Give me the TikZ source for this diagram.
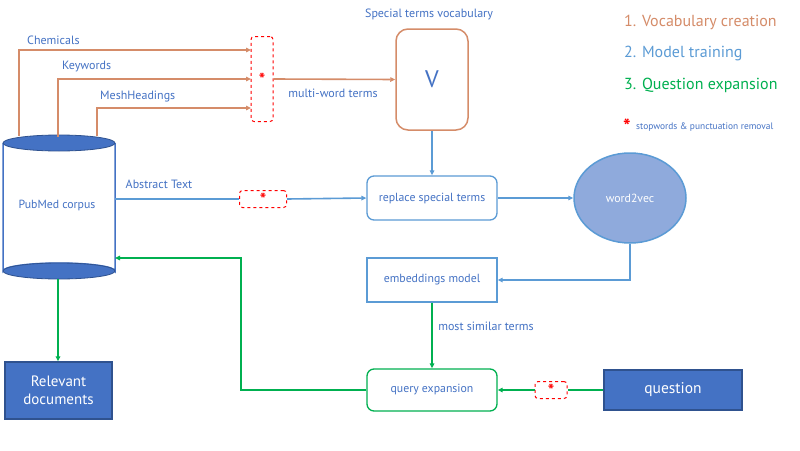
\documentclass[tikz,border=0pt]{standalone}
\usepackage{fontspec}
\setmainfont{PT Sans}
\usetikzlibrary{arrows.meta,shapes.geometric}
\definecolor{orng}{RGB}{213,140,105}
\definecolor{tblue}{RGB}{68,114,196}
\definecolor{lblue}{RGB}{91,155,213}
\definecolor{grn}{RGB}{0,176,80}
\definecolor{dkblue}{RGB}{47,82,143}
\definecolor{ellfill}{RGB}{143,170,220}
\newcommand{\redstar}{\raisebox{-4pt}{\bfseries *}}
\begin{document}
\begin{tikzpicture}[x=1pt,y=-1pt,
  tip/.style={-{Triangle[length=5pt,width=4.5pt]}},
  lbl/.style={text=tblue,font=\fontsize{12}{14}\selectfont,inner sep=0pt},
  oline/.style={draw=orng,line width=1.6pt,tip},
  bline/.style={draw=lblue,line width=1.6pt,tip},
  gline/.style={draw=grn,line width=1.6pt,tip},
  redbox/.style={draw=red,dashed,line width=1pt,rounded corners=3pt,text=red,inner sep=0pt,font=\fontsize{17}{17}\selectfont},
  procbox/.style={draw=lblue,line width=1.3pt,fill=white,text=tblue,minimum width=130pt,minimum height=44pt,font=\fontsize{11.8}{13}\selectfont,inner sep=0pt},
  solidbox/.style={draw=dkblue,line width=1.3pt,fill=tblue,text=white,inner sep=0pt}
]
\useasboundingbox (0,0) rectangle (800,450);
\fill[white] (0,0) rectangle (800,450);

% cylinder
\node[minimum width=112pt,minimum height=128pt,inner sep=0pt] (corpus) at (59,207) {};
\draw[tblue,line width=1.5pt,fill=white] (3,143) -- (3,271) arc[start angle=180,end angle=360,x radius=56,y radius=8] -- (115,143);
\draw[dkblue,line width=0.8pt,fill=tblue] (59,271) ellipse[x radius=56,y radius=8];
\draw[dkblue,line width=0.8pt,fill=tblue] (59,143) ellipse[x radius=56,y radius=8];
\node[lbl,font=\fontsize{11.8}{13}\selectfont] (corpustxt) at (57,205) {PubMed corpus};

\coordinate (c1) at (19,136);
\coordinate (c2) at (58,137);
\coordinate (c3) at (97,136);
\coordinate (cright) at (115,199);
\coordinate (cright2) at (115,258);
\coordinate (cbot) at (58,279);

% red dashed box
\node[redbox,minimum width=22pt,minimum height=85pt] (star1) at (262,79) {\redstar};
\coordinate (s1a) at (251,50);
\coordinate (s1b) at (251,79);
\coordinate (s1c) at (251,108);

\draw[oline] (c1) |- (s1a);
\draw[oline] (c2) |- (s1b);
\draw[oline] (c3) |- (s1c);
\node[lbl,anchor=west] (lchem) at (27,40) {Chemicals};
\node[lbl,anchor=west] (lkey) at (62,67) {Keywords};
\node[lbl,anchor=west] (lmesh) at (100,97) {MeshHeadings};

% V box
\node[draw=orng,line width=1.5pt,rounded corners=12pt,minimum width=72pt,minimum height=101pt,text=tblue,font=\fontsize{24}{26}\selectfont,inner sep=0pt] (V) at (432,79.5) {V};
\node[lbl] (lspec) at (429,14) {Special terms vocabulary};
\draw[oline] (star1.east) -- (V.west);
\node[lbl] (lmulti) at (333,93) {multi-word terms};

% replace
\node[procbox,rounded corners=7pt] (replace) at (432,198) {replace special terms};
\draw[bline] (V.south) -- (replace.north);

% abstract
\node[redbox,minimum width=47pt,minimum height=17pt] (star2) at (263,199) {\redstar};
\draw[draw=lblue,line width=1.6pt] (cright) -- (star2.west);
\draw[bline] (star2.east) -- (replace.west);
\node[lbl] (labs) at (159,184) {Abstract Text};

% word2vec
\node[ellipse,draw=lblue,line width=1.5pt,fill=ellfill,minimum width=112pt,minimum height=90pt,text=white,font=\fontsize{11.8}{13}\selectfont,inner sep=0pt] (w2v) at (630,198) {word2vec};
\draw[bline] (replace.east) -- (w2v.west);

% embeddings
\node[procbox] (emb) at (432,280) {embeddings model};
\draw[bline] (w2v.south) |- (emb.east);

% query
\node[procbox,draw=grn,rounded corners=7pt,minimum height=42pt] (query) at (432,390) {query expansion};
\draw[gline] (emb.south) -- (query.north);
\node[lbl] (lmost) at (486,326) {most similar terms};

% question
\node[solidbox,minimum width=138pt,minimum height=40pt,font=\fontsize{15.5}{17}\selectfont] (question) at (673,390) {question};
\node[redbox,minimum width=32pt,minimum height=17pt] (star3) at (551,390) {\redstar};
\draw[draw=grn,line width=1.6pt] (question.west) -- (star3.east);
\draw[gline] (star3.west) -- (query.east);

% back to corpus
\coordinate (bend) at (241,258);
\draw[gline] (query.west) -| (bend) -- (cright2);

% relevant documents
\node[solidbox,minimum width=107pt,minimum height=57pt,font=\fontsize{15}{17.5}\selectfont,align=center] (rel) at (58.5,390.5) {Relevant\\documents};
\draw[gline] (cbot) -- (cbot |- rel.north);

% legend
\node[anchor=west,text=orng,font=\fontsize{16}{18}\selectfont,inner sep=0pt] (leg1) at (624,22) {1. Vocabulary creation};
\node[anchor=west,text=lblue,font=\fontsize{16}{18}\selectfont,inner sep=0pt] (leg2) at (624,53) {2. Model training};
\node[anchor=west,text=grn,font=\fontsize{16}{18}\selectfont,inner sep=0pt] (leg3) at (624,85) {3. Question expansion};
\node[text=red,font=\fontsize{20}{20}\selectfont\bfseries,inner sep=0pt] (leg4) at (627,126) {*};
\node[anchor=west,text=tblue,font=\fontsize{9.4}{11}\selectfont,inner sep=0pt] (leg5) at (636,127) {stopwords \& punctuation removal};
\end{tikzpicture}
\end{document}
